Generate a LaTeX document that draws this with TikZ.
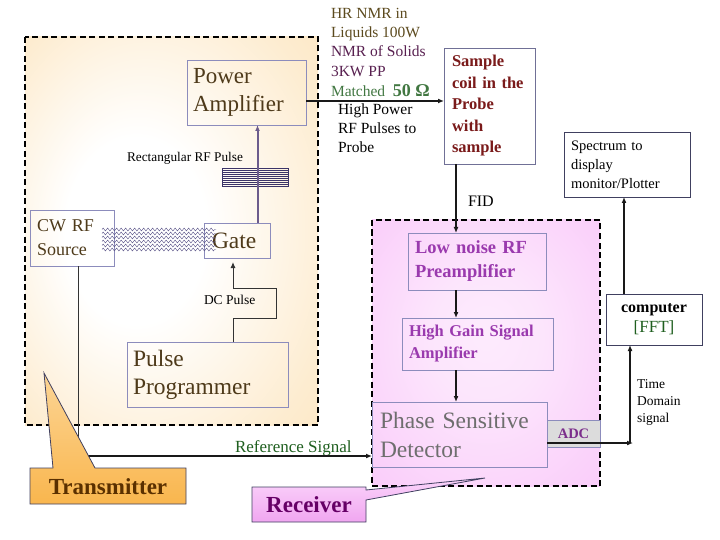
\documentclass[tikz,border=0pt]{standalone}
\usepackage{fontspec}
\setmainfont{Liberation Serif}
\usetikzlibrary{arrows.meta,decorations.pathmorphing,calc}
\definecolor{tbg}{HTML}{FCE0B2}
\definecolor{rbg}{HTML}{F9C6F9}
\definecolor{boxc}{HTML}{8C8CBC}
\definecolor{tbrown}{HTML}{4E3A1A}
\definecolor{rpurple}{HTML}{9A3AAE}
\definecolor{dgreen}{HTML}{1F5F1F}
\definecolor{olivec}{HTML}{5C4A1E}
\definecolor{dpurple}{HTML}{582050}
\definecolor{dred}{HTML}{7A1A1A}
\definecolor{psdgrey}{HTML}{6E6E6E}
\definecolor{hatchc}{HTML}{3C3468}
\definecolor{zigc}{HTML}{5A5488}
\definecolor{paline}{HTML}{6C5C8C}
\definecolor{torange}{HTML}{F9B64E}
\definecolor{torangel}{HTML}{FCD595}
\definecolor{rpink}{HTML}{F0A6F0}
\definecolor{rpinkl}{HTML}{FBD4FB}
\definecolor{recvtext}{HTML}{660066}
\definecolor{transtext}{HTML}{5A3000}
\definecolor{adcgrey}{HTML}{DCDCDC}
\definecolor{darkbox}{HTML}{404060}
\pgfdeclareradialshading{tshade}{\pgfpoint{-8bp}{0bp}}{color(0bp)=(white); color(12bp)=(white); color(32bp)=(tbg!60!white); color(50bp)=(tbg)}
\pgfdeclareradialshading{rshade}{\pgfpoint{0bp}{4bp}}{color(0bp)=(rbg!35!white); color(12bp)=(rbg!45!white); color(34bp)=(rbg!85!white); color(50bp)=(rbg)}
\begin{document}
\begin{tikzpicture}[x=1pt,y=-1pt,
  every node/.style={inner sep=0pt, outer sep=0pt},
  tbox/.style={draw=boxc, line width=0.9pt, text=tbrown, align=left},
  rbox/.style={draw=boxc, line width=0.9pt, text=rpurple, align=left},
  conn/.style={line width=2.2pt, draw=black!90, -{Latex[length=6pt,width=5pt]}},
  pline/.style={line width=2pt, draw=paline, -{Latex[length=6pt,width=5pt]}},
  thinline/.style={line width=1pt, draw=black!80},
  thinarrow/.style={line width=1pt, draw=black!80, -{Latex[length=6pt,width=5pt]}},
  zig/.style={draw=zigc, line width=0.4pt, decorate, decoration={zigzag, segment length=4.5pt, amplitude=1.5pt}},
  dashbox/.style={draw=black, line width=2.6pt, dash pattern=on 6pt off 3.5pt},
  lbl/.style={anchor=base west}
]
\useasboundingbox (0,0) rectangle (720,540);
\fill[white] (0,0) rectangle (720,540);

% backgrounds of the two groups
\shade[shading=tshade] (25,37) rectangle (318,425);
\shade[shading=rshade] (372,220) rectangle (600,486);
\draw[dashbox] (25,37) rectangle (318,425);
\draw[dashbox] (372,220) rectangle (600,486);

% transmitter blocks
\node[tbox, font=\fontsize{23}{28}\selectfont, minimum height=65pt, inner xsep=6pt, text width=107pt] (pa) at (246.5,92.5) {Power\\Amplifier};
\node[tbox, font=\fontsize{18}{24}\selectfont, minimum height=56pt, inner xsep=7pt, text width=70pt] (cw) at (72,238) {CW RF\\Source};
\node[tbox, font=\fontsize{23.5}{28}\selectfont, minimum height=35pt, inner xsep=8pt, text width=50pt] (gate) at (237,240.5) {Gate};
\node[tbox, font=\fontsize{23.5}{28}\selectfont, minimum height=65pt, inner xsep=6pt, text width=149pt] (pp) at (207.5,374.5) {Pulse\\Programmer};

% rectangular pulse hatch
\draw[hatchc, line width=0.6pt] (222,168) rectangle (288,186);
\foreach \yy in {170,172,...,184} \draw[hatchc, line width=0.5pt] (222,\yy) -- (288,\yy);
% CW wave
\foreach \yy in {229.5,233.5,237.5,241.5,245.5,249.5} \draw[zig] (102,\yy) -- (216,\yy);

% probe and display
\node[draw=boxc!80!black, line width=0.9pt, fill=white, text=dred, align=left, font=\bfseries\fontsize{16.5}{21.5}\selectfont, minimum height=116pt, inner xsep=8pt, text width=75pt] (sc) at (489.5,106) {Sample\\coil in the\\Probe\\with\\sample};
\node[draw=darkbox, line width=0.9pt, fill=white, align=left, font=\fontsize{14.5}{19}\selectfont, minimum height=65pt, inner xsep=7pt, text width=112pt] (spec) at (627,164.5) {Spectrum to\\display\\monitor/Plotter};
\node[draw=darkbox, line width=0.9pt, fill=white, align=center, font=\fontsize{16}{20}\selectfont, minimum height=51pt, minimum width=96pt] (comp) at (654,319.5) {\textbf{computer}\\\textcolor{dgreen}{\fontsize{17}{20}\selectfont[FFT]}};

% receiver blocks
\node[rbox, font=\bfseries\fontsize{18.5}{24}\selectfont, minimum height=57pt, inner xsep=7pt, text width=124pt] (lna) at (477,261.5) {Low noise RF\\Preamplifier};
\node[rbox, font=\bfseries\fontsize{16.5}{22}\selectfont, minimum height=52pt, inner xsep=7pt, text width=137pt] (hg) at (477.5,344) {High Gain Signal\\Amplifier};
\node[rbox, text=psdgrey, font=\fontsize{23.5}{29}\selectfont, minimum height=65pt, inner xsep=8pt, text width=159pt] (psd) at (459.5,434.5) {Phase Sensitive\\Detector};
\node[draw=boxc, line width=0.9pt, fill=adcgrey, text=rpurple!80!black, font=\bfseries\fontsize{14.5}{17}\selectfont, minimum width=53pt, minimum height=27pt] (adc) at (573.5,433.5) {ADC};

% labels
\node[lbl, font=\fontsize{13.3}{16}\selectfont] (rfp) at (127,161.5) {Rectangular RF Pulse};
\node[lbl, font=\fontsize{13.5}{16}\selectfont] (dcp) at (204,304.5) {DC Pulse};
\node[lbl, font=\fontsize{17}{20}\selectfont, text=dgreen] (refl) at (235,452.5) {Reference Signal};
\node[lbl, font=\fontsize{16}{19}\selectfont] (fid) at (468,206.5) {FID};
\node[lbl, font=\fontsize{13.5}{16}\selectfont] (td1) at (637,388.5) {Time};
\node[lbl, font=\fontsize{13.5}{16}\selectfont] (td2) at (637,405.5) {Domain};
\node[lbl, font=\fontsize{13.5}{16}\selectfont] (td3) at (637,422.5) {signal};
\node[lbl, font=\fontsize{15.5}{19}\selectfont, text=olivec] (hr1) at (331,18.5) {HR NMR in};
\node[lbl, font=\fontsize{15.5}{19}\selectfont, text=olivec] (hr2) at (331,37.5) {Liquids 100W};
\node[lbl, font=\fontsize{15.5}{19}\selectfont, text=dpurple] (hr3) at (331,56.5) {NMR of Solids};
\node[lbl, font=\fontsize{15.5}{19}\selectfont, text=dpurple] (hr4) at (331,76.5) {3KW PP};
\node[lbl, font=\fontsize{15.5}{19}\selectfont, text=dgreen!85!white] (hr5) at (331,96.5) {Matched\ \ \textbf{\fontsize{18}{19}\selectfont 50 Ω}};
\node[lbl, font=\fontsize{15.5}{19}\selectfont] (hp1) at (338,114.5) {High Power};
\node[lbl, font=\fontsize{15.5}{19}\selectfont] (hp2) at (338,133.5) {RF Pulses to};
\node[lbl, font=\fontsize{15.5}{19}\selectfont] (hp3) at (338,152.5) {Probe};

% connectors
\coordinate (g1) at ([xshift=20.5pt]gate.north);
\draw[pline] (g1) -- (g1 |- pa.south);
\coordinate (p1) at ([xshift=25.5pt]pp.north);
\coordinate (g2) at ([xshift=-4pt,yshift=-4pt]gate.south);
\draw[thinarrow] (p1) -- ++(0,-24) -- ++(43,0) -- ++(0,-30) -- ++(-43,0) -- (g2);
\coordinate (c1) at ([xshift=6pt]cw.south);
\coordinate (ry) at (0,456);
\draw[thinline] (c1) -- (c1 |- ry);
\draw[conn] (c1 |- ry) -- (psd.west |- ry);
\coordinate (a1) at ([yshift=-8.5pt]pa.east);
\draw[conn] (a1) -- (a1 -| sc.west);
\coordinate (f1) at ([xshift=-33.5pt]sc.south);
\draw[conn] (f1) -- (f1 |- lna.north);
\coordinate (l1) at ([xshift=-21pt]lna.south);
\draw[conn] (l1) -- (l1 |- hg.north);
\coordinate (h1) at ([xshift=-21.5pt]hg.south);
\draw[conn] (h1) -- (h1 |- psd.north);
\coordinate (d1) at ([yshift=-8.5pt]psd.east);
\coordinate (d2) at (633,443);
\draw[conn] (d1) -- (d2);
\coordinate (d3) at (630,443);
\draw[conn] (d3) -- (d3 |- comp.south);
\coordinate (k1) at ([xshift=-30pt]comp.north);
\draw[conn] (k1) -- (k1 |- spec.south);

% callouts
\shade[top color=torangel, bottom color=torange, draw=darkbox, line width=0.8pt]
  (30,468) -- (53,468) -- (44,373) -- (95,468) -- (186,468) -- (186,504) -- (30,504) -- cycle;
\node[font=\bfseries\fontsize{23}{26}\selectfont, text=transtext] (trans) at (108,487) {Transmitter};
\shade[top color=rpinkl, bottom color=rpink, draw=darkbox, line width=0.8pt]
  (252,487) -- (366,487) -- (366,490) -- (485,478) -- (366,500) -- (366,522) -- (252,522) -- cycle;
\node[font=\bfseries\fontsize{23}{26}\selectfont, text=recvtext] (recv) at (309,505) {Receiver};
\end{tikzpicture}
\end{document}
